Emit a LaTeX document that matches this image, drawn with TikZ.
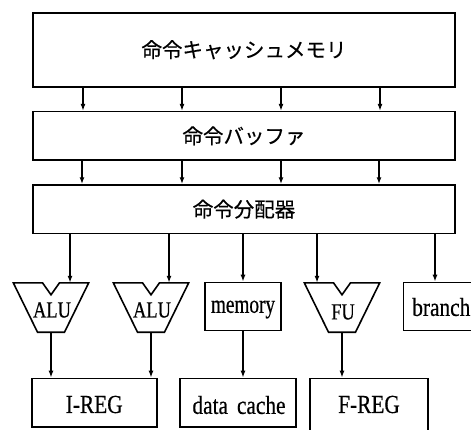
\documentclass[tikz,border=0pt]{standalone}
\usepackage{fontspec}
\newfontfamily\jp[FakeBold=0.4]{Noto Sans CJK JP}
\newfontfamily\cond[FakeStretch=0.82,FakeBold=0.5]{Liberation Serif}
\newfontfamily\condm[FakeStretch=0.74,FakeBold=0.5]{Liberation Serif}
\newfontfamily\condu[FakeStretch=0.8,FakeBold=0.5]{Liberation Serif}
\usetikzlibrary{arrows.meta}
\tikzset{
  box/.style={draw, line width=1.6pt, inner sep=0pt, rectangle},
  unitshape/.style={inner sep=0pt, minimum width=75pt, minimum height=49pt},
  unitline/.style={draw, line width=1.6pt, line join=miter},
  arr/.style={line width=1.5pt, -{Latex[length=7pt,width=5pt]}},
  jtxt/.style={font=\jp\fontsize{20.5}{24}\selectfont},
  ltxt/.style={font=\cond\fontsize{26}{28}\selectfont, inner sep=0pt},
  mtxt/.style={font=\condm\fontsize{26}{28}\selectfont, inner sep=0pt},
  atxt/.style={font=\condu\fontsize{23}{25}\selectfont, inner sep=0pt}
}
\newcommand\trapz[1]{%
  \draw[unitline] (#1.north west) -- ([xshift=-8.5pt]#1.north) -- ([yshift=-12pt]#1.north)
    -- ([xshift=8.5pt]#1.north) -- (#1.north east) -- ([xshift=13.5pt]#1.south)
    -- ([xshift=-13.5pt]#1.south) -- cycle;}
\begin{document}
\begin{tikzpicture}[x=1pt,y=-1pt]
\useasboundingbox (0,0) rectangle (471,429);
\clip (0,0) rectangle (471,429);
% big boxes
\node[box, jtxt, minimum width=422pt, minimum height=74pt] (b1) at (244,49.7) {命令キャッシュメモリ};
\node[box, jtxt, minimum width=422pt, minimum height=48.3pt] (b2) at (244,135.8) {命令バッファ};
\node[box, jtxt, minimum width=422pt, minimum height=48.3pt] (b3) at (244,209.2) {命令分配器};
% arrows between big boxes
\foreach \x/\y in {83/82,182/182,281/281,380/379}{
  \draw[arr] (\x,0 |- b1.south) -- (\x,0 |- b2.north);
  \draw[arr] (\y,0 |- b2.south) -- (\y,0 |- b3.north);
}
% units
\node[unitshape] (alu1) at (51,307.5) {};
\node[unitshape] (alu2) at (151,307.5) {};
\node[unitshape] (fu) at (342,307.5) {};
\trapz{alu1}\trapz{alu2}\trapz{fu}
\node[atxt] (alu1t) at (52,310) {ALU};
\node[atxt] (alu2t) at (152,310) {ALU};
\node[atxt] (fut) at (343,312) {FU};
\node[box, minimum width=75.7pt, minimum height=48pt] (mem) at (243,306.5) {};
\node[mtxt] (memt) at (243,309.5) {memory};
\node[box, minimum width=76pt, minimum height=48pt] (br) at (441.3,306.5) {};
\node[ltxt] (brt) at (441.3,307) {branch};
% arrows from dispatcher
\draw[arr] (70,0 |- b3.south) -- (70,0 |- alu1.north);
\draw[arr] (169,0 |- b3.south) -- (169,0 |- alu2.north);
\draw[arr] (b3.south -| mem.north) -- (mem.north);
\draw[arr] (317,0 |- b3.south) -- (317,0 |- fu.north);
\draw[arr] (435,0 |- b3.south) -- (435,0 |- br.north);
% bottom boxes
\node[box, minimum width=125pt, minimum height=48.5pt] (ireg) at (94.2,402.7) {};
\node[ltxt] (iregt) at (94.2,404.5) {I-REG};
\node[box, minimum width=116pt, minimum height=48.5pt] (dc) at (238,402.7) {};
\node[ltxt] (dct) at (239,405) {data\hspace{9pt}cache};
\node[box, minimum width=118pt, minimum height=53.5pt] (freg) at (369,405.2) {};
\node[ltxt] (fregt) at (369,404.5) {F-REG};
% arrows to bottom
\draw[arr] (alu1.south) -- (alu1.south |- ireg.north);
\draw[arr] (alu2.south) -- (alu2.south |- ireg.north);
\draw[arr] (mem.south) -- (mem.south |- dc.north);
\draw[arr] (fu.south) -- (fu.south |- freg.north);
\end{tikzpicture}
\end{document}
